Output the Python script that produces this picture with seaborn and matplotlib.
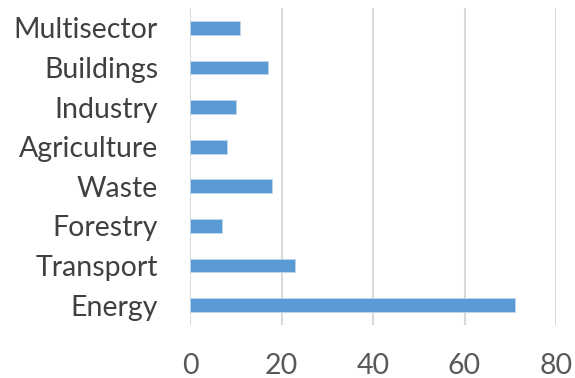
import matplotlib
matplotlib.use("Agg")
import matplotlib.pyplot as plt
import seaborn as sns
import pandas as pd

sectors = ["Multisector", "Buildings", "Industry", "Agriculture",
           "Waste", "Forestry", "Transport", "Energy"]
counts = [11, 17, 10, 8, 18, 7, 23, 71]
x_ticks = [0, 20, 40, 60, 80]

df = pd.DataFrame({"sector": sectors, "count": counts})

sns.set_theme(style="white")
plt.rcParams["font.family"] = ["Lato", "DejaVu Sans"]

fig = plt.figure(figsize=(5.75, 3.78), dpi=100)
ax = fig.add_axes([190 / 575, 1 - 325 / 378, (556 - 190) / 575, (325 - 8) / 378])

sns.barplot(data=df, x="count", y="sector", order=sectors, color="#5b9bd5",
            width=0.35, saturation=1, edgecolor="#bdd7ee", linewidth=0.6, ax=ax)

ax.set_xlim(0, 80)
ax.set_xticks(x_ticks)
ax.set_xlabel("")
ax.set_ylabel("")
ax.grid(axis="x", color="#d9d9d9", linewidth=1.5)
ax.set_axisbelow(True)
for s in ax.spines.values():
    s.set_visible(False)
ax.tick_params(axis="x", length=0, pad=20, labelsize=20.5, labelcolor="#595959")
ax.tick_params(axis="y", length=0, pad=23, labelsize=20.5, labelcolor="#404040")

fig.savefig("out.png", dpi=100)
